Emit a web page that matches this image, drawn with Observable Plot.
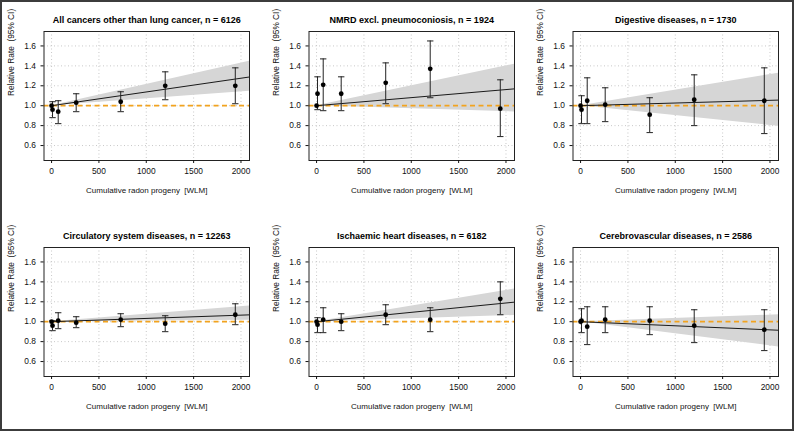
<!DOCTYPE html>
<html><head><meta charset="utf-8">
<script src="https://cdn.jsdelivr.net/npm/d3@7"></script>
<script src="https://cdn.jsdelivr.net/npm/@observablehq/plot@0.6"></script>
<style>
body{margin:0;background:#fff;}
#wrap{position:relative;width:794px;height:431px;overflow:hidden;background:#fff;}
#border{position:absolute;left:0;top:0;width:794px;height:431px;box-sizing:border-box;border:2px solid #3c3c3c;pointer-events:none;z-index:5;}
.cell{position:absolute;}
</style></head><body>
<div id="wrap"><div id="border"></div></div>
<script>
// ---- data ----
const wlm = [0, 10, 70, 260, 730, 1200, 1940];
const xTicks = [0, 500, 1000, 1500, 2000];
const yTicks = [0.6, 0.8, 1.0, 1.2, 1.4, 1.6];
const xLabel = "Cumulative radon progeny\u00a0 [WLM]";
const yLabel = "Relative Rate\u00a0 (95% CI)";

const titles = [
  "All cancers other than lung cancer, n = 6126",
  "NMRD excl. pneumoconiosis, n = 1924",
  "Digestive diseases, n = 1730",
  "Circulatory system diseases, n = 12263",
  "Ischaemic heart diseases, n = 6182",
  "Cerebrovascular diseases, n = 2586"
];

const rrCancer = [1.00, 0.96, 0.94, 1.03, 1.04, 1.20, 1.20];
const loCancer = [null, 0.88, 0.82, 0.94, 0.94, 1.06, 1.02];
const hiCancer = [null, 1.04, 1.05, 1.12, 1.14, 1.34, 1.38];

const rrNmrd = [1.00, 1.12, 1.21, 1.12, 1.23, 1.37, 0.97];
const loNmrd = [null, 0.96, 0.95, 0.95, 1.02, 1.08, 0.69];
const hiNmrd = [null, 1.29, 1.47, 1.29, 1.43, 1.65, 1.26];

const rrDigest = [1.00, 0.96, 1.05, 1.01, 0.91, 1.06, 1.05];
const loDigest = [null, 0.82, 0.82, 0.84, 0.73, 0.80, 0.72];
const hiDigest = [null, 1.10, 1.28, 1.18, 1.08, 1.31, 1.38];

const rrCirc = [1.00, 0.96, 1.01, 0.99, 1.02, 0.98, 1.07];
const loCirc = [null, 0.91, 0.93, 0.94, 0.95, 0.90, 0.97];
const hiCirc = [null, 1.01, 1.09, 1.05, 1.08, 1.06, 1.18];

const rrIhd = [1.00, 0.97, 1.02, 1.00, 1.07, 1.02, 1.23];
const loIhd = [null, 0.89, 0.89, 0.91, 0.97, 0.90, 1.07];
const hiIhd = [null, 1.04, 1.14, 1.08, 1.17, 1.14, 1.40];

const rrCereb = [1.00, 1.01, 0.95, 1.02, 1.01, 0.96, 0.92];
const loCereb = [null, 0.89, 0.77, 0.89, 0.87, 0.79, 0.71];
const hiCereb = [null, 1.13, 1.15, 1.15, 1.15, 1.12, 1.12];

// linear ERR per 100 WLM: [estimate, lower, upper]
const errCancer = [0.0138, 0.0070, 0.0213];
const errNmrd   = [0.0081, -0.0030, 0.0199];
const errDigest = [0.0027, -0.0099, 0.0156];
const errCirc   = [0.0033, 0.0007, 0.0075];
const errIhd    = [0.0094, 0.0030, 0.0157];
const errCereb  = [-0.0041, -0.0121, 0.0033];

const fitX = [0, 2090];

const panels = [
  [rrCancer, loCancer, hiCancer, errCancer],
  [rrNmrd, loNmrd, hiNmrd, errNmrd],
  [rrDigest, loDigest, hiDigest, errDigest],
  [rrCirc, loCirc, hiCirc, errCirc],
  [rrIhd, loIhd, hiIhd, errIhd],
  [rrCereb, loCereb, hiCereb, errCereb]
];

// ---- drawing ----
const capSymbol = {
  draw(ctx, size) {
    const r = Math.sqrt(size / Math.PI);
    ctx.moveTo(-r, 0);
    ctx.lineTo(r, 0);
  }
};
const colLeft = [0, 264.5, 529];
const rowTop = [0, 215.5];
const font = "'Liberation Sans', Arial, Helvetica, sans-serif";
const wrap = document.getElementById("wrap");

panels.forEach(([rr, lo, hi, err], i) => {
  const pts = wlm.map((x, k) => ({x, rr: rr[k], lo: lo[k], hi: hi[k]}));
  const bars = pts.filter(d => d.lo != null);
  const fit = fitX.map(x => ({
    x,
    y: 1 + err[0] * x / 100,
    y1: 1 + err[1] * x / 100,
    y2: 1 + err[2] * x / 100
  }));
  const chart = Plot.plot({
    width: 265,
    height: 215,
    marginLeft: 43.5,
    marginRight: 16,
    marginTop: 31,
    marginBottom: 55,
    x: {domain: [-80, 2090]},
    y: {domain: [0.45, 1.745]},
    style: {fontFamily: font, fontSize: "8.4px", color: "#111", background: "transparent", overflow: "visible"},
    marks: [
      Plot.gridX({ticks: xTicks, stroke: "#c8c8c8", strokeOpacity: 1, strokeDasharray: "1,2.5"}),
      Plot.gridY({ticks: yTicks, stroke: "#c8c8c8", strokeOpacity: 1, strokeDasharray: "1,2.5"}),
      Plot.areaY(fit, {x: "x", y1: "y1", y2: "y2", fill: "#d6d6d6", clip: true}),
      Plot.ruleY([1], {stroke: "#F2A31F", strokeWidth: 1.7, strokeDasharray: "5,3.5"}),
      Plot.line(fit, {x: "x", y: "y", stroke: "#1a1a1a", strokeWidth: 1, clip: true}),
      Plot.ruleX(bars, {x: "x", y1: "lo", y2: "hi", stroke: "#222", strokeWidth: 1}),
      Plot.dot(bars, {x: "x", y: "lo", r: 3.2, symbol: capSymbol, stroke: "#222", fill: "none", strokeWidth: 1}),
      Plot.dot(bars, {x: "x", y: "hi", r: 3.2, symbol: capSymbol, stroke: "#222", fill: "none", strokeWidth: 1}),
      Plot.dot(pts, {x: "x", y: "rr", r: 2.4, fill: "#000", stroke: "none"}),
      Plot.frame({stroke: "#222", strokeWidth: 1}),
      Plot.axisX({ticks: xTicks, tickFormat: d3.format("d"), tickSize: 3, tickPadding: 5, label: null, fontSize: 8.4}),
      Plot.axisY({ticks: yTicks, tickFormat: d3.format(".1f"), tickSize: 3, tickPadding: 5, label: null, fontSize: 8.4}),
      Plot.text([titles[i]], {frameAnchor: "top", dy: -15.3, text: d => d, fontWeight: "bold", fontSize: 9, fill: "#000"}),
      Plot.text([xLabel], {frameAnchor: "bottom", dy: 32.7, text: d => d, fontSize: 8, fill: "#111"}),
      Plot.text([yLabel], {frameAnchor: "left", dx: -32.5, rotate: -90, text: d => d, fontSize: 8.3, fill: "#111"})
    ]
  });
  const cell = document.createElement("div");
  cell.className = "cell";
  cell.style.left = colLeft[i % 3] + "px";
  cell.style.top = rowTop[Math.floor(i / 3)] + "px";
  cell.appendChild(chart);
  wrap.appendChild(cell);
});
</script>
</body></html>
